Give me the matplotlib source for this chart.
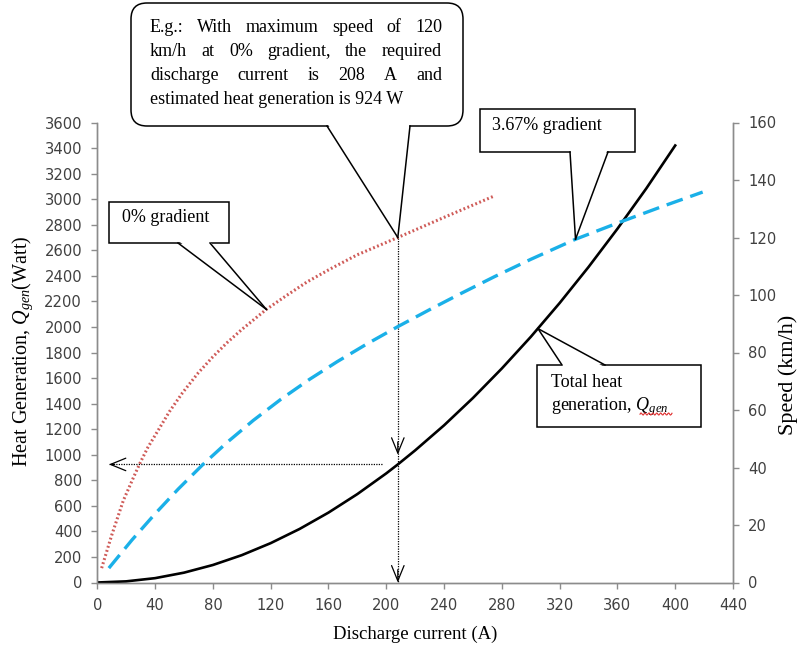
import numpy as np
import matplotlib
matplotlib.use("Agg")
import matplotlib.pyplot as plt
from matplotlib.patches import FancyBboxPatch, Polygon
from matplotlib.lines import Line2D
from matplotlib.transforms import IdentityTransform

# Data
current_heat = [0, 20, 40, 60, 80, 100, 120, 140, 160, 180, 200, 208, 220, 240,
                260, 280, 300, 320, 340, 360, 380, 400]
heat_total = [0, 9, 34, 77, 137, 214, 308, 419, 547, 692, 854, 924, 1034, 1230,
              1444, 1675, 1922, 2187, 2469, 2768, 3084, 3420]

current_0pct = [3, 10, 18, 25, 30, 35, 41, 50, 59, 70, 80, 90, 100, 117, 130,
                145, 161, 180, 208, 240, 275]
speed_0pct = [5, 16.5, 28.5, 36.5, 42, 47, 52, 59.5, 66, 73, 78.5, 83.5, 88, 95,
              99.5, 104.5, 109, 114, 120, 127, 134.5]

current_367pct = [8, 24, 40, 56, 73, 90, 108, 127, 147, 166, 186, 208, 230, 250,
                  275, 300, 331, 361, 390, 419]
speed_367pct = [5, 14.8, 23.9, 32.5, 41, 48.8, 56.4, 63.7, 70.7, 76.8, 82.8, 89,
                94.9, 100.1, 106.4, 112.4, 119.4, 125.2, 130.6, 135.8]

example_current = 208
example_speed = 120
example_heat = 924

x_ticks = list(range(0, 441, 40))
heat_ticks = list(range(0, 3601, 200))
speed_ticks = list(range(0, 161, 20))

W, H = 798, 651
SERIF = "Liberation Serif"
TICKFONT = "DejaVu Sans"
SPINE = "#8c8c8c"

plt.rcParams["mathtext.fontset"] = "custom"
plt.rcParams["mathtext.rm"] = SERIF
plt.rcParams["mathtext.it"] = SERIF + ":italic"

fig = plt.figure(figsize=(W / 100, H / 100), dpi=100)
ax = fig.add_axes([97.3 / W, 1 - 582.5 / H, (733 - 97.3) / W, (582.5 - 122.5) / H])
ax2 = ax.twinx()

ax.plot(current_heat, heat_total, color="black", lw=1.9, zorder=3)
ax2.plot(current_0pct, speed_0pct, color="#cf5b58", lw=2.2, dashes=(0.6, 0.8))
ax2.plot(current_367pct, speed_367pct, color="#1ab0e8", lw=2.4, dashes=(5.1, 2.4))

ax.set_xlim(0, 440)
ax.set_ylim(0, 3600)
ax2.set_ylim(0, 160)
ax.set_xticks(x_ticks)
ax.set_yticks(heat_ticks)
ax2.set_yticks(speed_ticks)

for a in (ax, ax2):
    a.spines["top"].set_visible(False)
    for side in ("left", "right", "bottom"):
        a.spines[side].set_color(SPINE)
        a.spines[side].set_linewidth(1.0)
    a.tick_params(direction="out", length=4.5, width=1, color=SPINE,
                  labelcolor="#404040", labelsize=10.6, pad=6.5)
    for lab in a.get_xticklabels() + a.get_yticklabels():
        lab.set_family(TICKFONT)

ax.set_xlabel("Discharge current (A)", family=SERIF, fontsize=13.5, va="center")
ax.xaxis.set_label_coords(0.5, -0.112)
ax.set_ylabel(r"Heat Generation, $Q_{gen}$(Watt)", family=SERIF, fontsize=14.5, va="center")
ax.yaxis.set_label_coords(-0.1177, 0.503)
ax2.set_ylabel("Speed (km/h)", family=SERIF, fontsize=16, va="center", rotation=90)
ax2.yaxis.set_label_coords(1.0865, 0.451)

# dotted guide lines with open arrowheads
guide = dict(color="black", lw=0.9, ls=(0, (1, 1)))
ax.plot([example_current, example_current], [example_speed * 22.5, 0], **guide, zorder=4)
ax.plot([example_current - 11, 8], [example_heat, example_heat], **guide, zorder=4)
head = dict(arrowstyle="->,head_length=11,head_width=4.5", color="black", lw=0.9,
            mutation_scale=1, shrinkA=0, shrinkB=0)
ax.annotate("", xy=(example_current, 1000), xytext=(example_current, 1100),
            arrowprops=head, zorder=4)
ax.annotate("", xy=(example_current, 0), xytext=(example_current, 100),
            arrowprops=head, zorder=4)
ax.annotate("", xy=(8, example_heat), xytext=(12, example_heat),
            arrowprops=head, zorder=4)


def callout(box, base_xs, base_y, tip, rounded=False):
    # box in image pixels (y down), tip in display pixels
    x0, y0, x1, y1 = box
    style = "round,pad=0,rounding_size=16" if rounded else "square,pad=0"
    fig.add_artist(FancyBboxPatch((x0, H - y1), x1 - x0, y1 - y0, boxstyle=style,
                                  facecolor="white", edgecolor="black", lw=1.1,
                                  transform=IdentityTransform(), zorder=10))
    by = H - base_y
    inside = 2 if base_y == y1 else -2
    fig.add_artist(Polygon([(base_xs[0] + 0.6, by + inside), tip, (base_xs[1] - 0.6, by + inside)],
                           closed=True, facecolor="white", edgecolor="none",
                           transform=IdentityTransform(), zorder=11))
    for bx in base_xs:
        fig.add_artist(Line2D([bx, tip[0]], [by, tip[1]], color="black", lw=1.1,
                              transform=IdentityTransform(), zorder=12))


def ftext(x, y, s, **kw):
    kw.setdefault("family", SERIF)
    kw.setdefault("fontsize", 13)
    kw.setdefault("va", "center")
    return fig.text(x / W, 1 - y / H, s, zorder=13, **kw)


tip_main = ax2.transData.transform((example_current, example_speed))
callout((131, 3, 463, 126), (327, 410), 126, tip_main, rounded=True)

tip_0 = ax2.transData.transform((117, 95))
callout((109, 202, 229, 243), (178, 210), 243, tip_0)

tip_367 = ax2.transData.transform((331, 119.4))
callout((480, 109, 635, 152), (570, 608), 152, tip_367)

tip_q = ax.transData.transform((305, 1987))
callout((537, 365, 701, 427), (562, 605), 365, tip_q)

ftext(122, 218, "0% gradient")
ftext(492, 126, "3.67% gradient")
ftext(551, 382, "Total heat")
ftext(551, 407, r"generation, $Q_{gen}$")

# red spell-check squiggle under Q_gen, as in the source figure
sx = np.linspace(640, 672, 40)
fig.add_artist(Line2D(sx, H - 414 + 1.1 * np.sin(sx * 1.6), color="#e03030", lw=0.8,
                      transform=IdentityTransform(), zorder=14))

# justified paragraph in the rounded callout
renderer = fig.canvas.get_renderer()
lines = ["E.g.: With maximum speed of 120",
         "km/h at 0% gradient, the required",
         "discharge current is 208 A and"]
line_y = [27, 52, 76]
left, right = 150, 442
for line, y in zip(lines, line_y):
    words = line.split()
    texts = [ftext(left, y, w) for w in words]
    widths = [t.get_window_extent(renderer=renderer).width for t in texts]
    gap = (right - left - sum(widths)) / (len(words) - 1)
    x = left
    for t, w in zip(texts, widths):
        t.set_x(x / W)
        x += w + gap
ftext(left, 99, "estimated heat generation is 924 W")

fig.savefig("out.png", dpi=100)
